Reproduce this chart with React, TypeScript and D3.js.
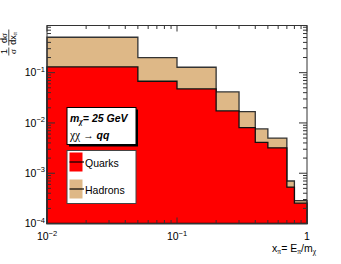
import React from "react";
import * as d3 from "d3";

const xEdges = [0.01, 0.05, 0.1, 0.2, 0.3, 0.4, 0.5, 0.7, 0.8, 1.0];
const quarks = [0.13, 0.0675, 0.0474, 0.0173, 0.0081, 0.0041, 0.0032, 0.00053, 0.000254];
const hadrons = [0.506, 0.199, 0.128, 0.0413, 0.0168, 0.0076, 0.005, 0.0007, 0.000285];
const xMajor = [0.01, 0.1, 1];
const xMajorExp = ["-2", "-1", ""];
const yMajor = [1e-4, 1e-3, 1e-2, 1e-1];
const yMajorExp = ["-4", "-3", "-2", "-1"];
const yDomain = [1e-4, 0.867];

const W = 341, H = 264;
const L = 47, R = 307, T = 25.5, B = 223.5;
const FONT = "'Liberation Sans', Arial, Helvetica, sans-serif";
const GREEK = "'Liberation Serif', 'DejaVu Serif', serif";

export default function App() {
  const x = d3.scaleLog().domain([0.01, 1]).range([L, R]);
  const y = d3.scaleLog().domain(yDomain).range([B, T]);
  const line = d3.line<[number, number]>().x((d) => x(d[0])).y((d) => y(d[1]));

  const histPath = (vals: number[]) => {
    const pts: [number, number][] = [[xEdges[0], yDomain[0]]];
    vals.forEach((v, i) => {
      pts.push([xEdges[i], v]);
      pts.push([xEdges[i + 1], v]);
    });
    pts.push([xEdges[xEdges.length - 1], yDomain[0]]);
    return line(pts) + "Z";
  };

  const xMinor: number[] = [];
  [0.01, 0.1].forEach((d) => {
    for (let k = 2; k <= 9; k++) xMinor.push(d * k);
  });
  const yMinor: number[] = [];
  yMajor.forEach((d) => {
    for (let k = 2; k <= 9; k++) if (d * k <= yDomain[1]) yMinor.push(d * k);
  });

  const axisCol = "#333";
  return (
    <svg width={W} height={H} style={{ position: "absolute", left: 0, top: 0, background: "#fff" }} fontFamily={FONT}>
      <rect x={0} y={0} width={W} height={H} fill="#fff" />
      <path d={histPath(hadrons)} fill="#deb887" stroke="#333" strokeWidth={1.3} />
      <path d={histPath(quarks)} fill="#ff0000" stroke="#111" strokeWidth={1.3} />

      {/* frame */}
      <rect x={L} y={T} width={R - L} height={B - T} fill="none" stroke={axisCol} strokeWidth={1} />
      {xMajor.map((v) => (
        <g key={"xm" + v}>
          <line x1={x(v)} x2={x(v)} y1={B} y2={B - 6} stroke={axisCol} />
          <line x1={x(v)} x2={x(v)} y1={T} y2={T + 6} stroke={axisCol} />
        </g>
      ))}
      {xMinor.map((v) => (
        <g key={"xn" + v}>
          <line x1={x(v)} x2={x(v)} y1={B} y2={B - 3.5} stroke={axisCol} />
          <line x1={x(v)} x2={x(v)} y1={T} y2={T + 3.5} stroke={axisCol} />
        </g>
      ))}
      {yMajor.map((v) => (
        <g key={"ym" + v}>
          <line x1={L} x2={L + 8} y1={y(v)} y2={y(v)} stroke={axisCol} />
          <line x1={R} x2={R - 8} y1={y(v)} y2={y(v)} stroke={axisCol} />
        </g>
      ))}
      {yMinor.map((v) => (
        <g key={"yn" + v}>
          <line x1={L} x2={L + 4} y1={y(v)} y2={y(v)} stroke={axisCol} />
          <line x1={R} x2={R - 4} y1={y(v)} y2={y(v)} stroke={axisCol} />
        </g>
      ))}

      {xMajor.map((v, i) => (
        <text key={"xl" + v} x={x(v)} y={240} fontSize={10.5} textAnchor="middle" fill="#000">
          {xMajorExp[i] ? (
            <>
              10<tspan fontSize={7.5} dy={-4.5}>{"\u2212" + xMajorExp[i].slice(1)}</tspan>
            </>
          ) : (
            "1"
          )}
        </text>
      ))}
      {yMajor.map((v, i) => (
        <text key={"yl" + v} x={45} y={y(v) + 3.7} fontSize={10.5} textAnchor="end" fill="#000">
          10<tspan fontSize={7.5} dy={-4.5}>{"\u2212" + yMajorExp[i].slice(1)}</tspan>
        </text>
      ))}

      {/* x title */}
      <text x={316} y={252} fontSize={10.5} textAnchor="end" fill="#000">
        x<tspan fontSize={7.5} dy={2} fontFamily={GREEK}>π</tspan>
        <tspan dy={-2}>= E</tspan>
        <tspan fontSize={7.5} dy={2} fontFamily={GREEK}>π</tspan>
        <tspan dy={-2}>/m</tspan>
        <tspan fontSize={7.5} dy={2} fontFamily={GREEK}>χ</tspan>
      </text>

      {/* y title */}
      <g transform="rotate(-90)" fill="#000" fontSize={9}>
        <text x={-51.5} y={7.4} textAnchor="middle">1</text>
        <line x1={-55.5} x2={-47.5} y1={8.8} y2={8.8} stroke="#000" strokeWidth={0.7} />
        <text x={-51.5} y={15.8} textAnchor="middle" fontFamily={GREEK}>σ</text>
        <text x={-38} y={7.4} textAnchor="middle">
          d<tspan fontFamily={GREEK}>σ</tspan>
        </text>
        <line x1={-45.5} x2={-29.5} y1={8.8} y2={8.8} stroke="#000" strokeWidth={0.7} />
        <text x={-38.5} y={15.8} textAnchor="middle">
          dx<tspan fontSize={6} dy={1.5} fontFamily={GREEK}>π</tspan>
        </text>
      </g>

      {/* text box with shadow */}
      <rect x={69} y={109.5} width={69} height={37} fill="#000" />
      <rect x={67} y={107.5} width={69} height={37} fill="#fff" stroke="#000" strokeWidth={1} />
      <text x={70} y={121.5} fontSize={10.5} fontWeight="bold" fontStyle="italic" fill="#000">
        m<tspan fontSize={7.5} dy={2} fontFamily={GREEK}>χ</tspan>
        <tspan dy={-2}>= 25 GeV</tspan>
      </text>
      <text x={70} y={139} fontSize={10.5} fill="#000">
        <tspan fontFamily={GREEK} fontSize={11.5}>χχ</tspan>
        <tspan> → </tspan>
        <tspan fontWeight="bold" fontStyle="italic">qq</tspan>
      </text>

      {/* legend */}
      <rect x={67} y={150.5} width={69} height={53} fill="#fff" stroke="#444" strokeWidth={1} />
      <rect x={69.5} y={152.5} width={13} height={19} fill="#ff0000" />
      <line x1={69.5} x2={84} y1={162} y2={162} stroke="#000" strokeWidth={1.2} />
      <text x={85} y={166.5} fontSize={10.5} fill="#000">Quarks</text>
      <rect x={69.5} y={179.5} width={13} height={19} fill="#deb887" />
      <line x1={69.5} x2={84} y1={189} y2={189} stroke="#000" strokeWidth={1.2} />
      <text x={85} y={193.5} fontSize={10.5} fill="#000">Hadrons</text>
    </svg>
  );
}
